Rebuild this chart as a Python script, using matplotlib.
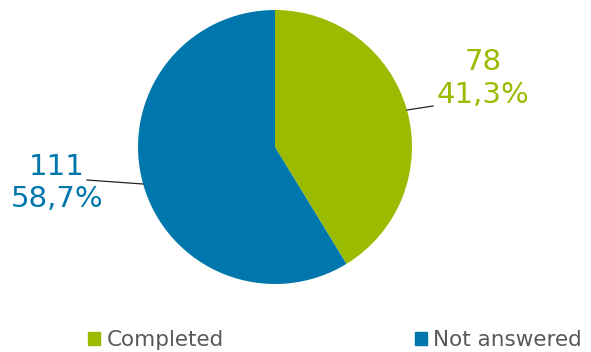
import matplotlib.pyplot as plt
from matplotlib.patches import Patch

labels = ["Completed", "Not answered"]
counts = [78, 111]
pct_labels = ["41,3%", "58,7%"]
colors = ["#9bbb00", "#0077ac"]

fig = plt.figure(figsize=(5.91, 3.52), dpi=100)
ax = fig.add_axes([0, 0, 1, 1])

# pie drawn in pixel-like data units, starting at 12 o'clock going clockwise
ax.pie(counts, colors=colors, startangle=90, counterclock=False,
       center=(275, 205), radius=137, frame=True)
ax.set_xlim(0, 591)
ax.set_ylim(0, 352)
ax.set_aspect("equal")
ax.axis("off")

# data labels with leader lines
ax.plot([407, 433], [242, 246], color="#222222", lw=0.9)
ax.text(483, 273.5, f"{counts[0]}\n{pct_labels[0]}", color=colors[0], fontsize=21,
        ha="center", va="center", linespacing=1.2)
ax.plot([87, 143], [172, 168], color="#222222", lw=0.9)
ax.text(57, 169, f"{counts[1]}\n{pct_labels[1]}", color=colors[1], fontsize=21,
        ha="center", va="center", linespacing=1.2)

handles = [Patch(color=c) for c in colors]
leg = ax.legend(handles, labels, ncol=2, loc="center", bbox_to_anchor=(0.567, 0.034),
                frameon=False, fontsize=15.5, handlelength=0.55, handleheight=0.55,
                handletextpad=0.3, columnspacing=8.9, labelcolor="#595959")

fig.savefig("out.png", dpi=100)
